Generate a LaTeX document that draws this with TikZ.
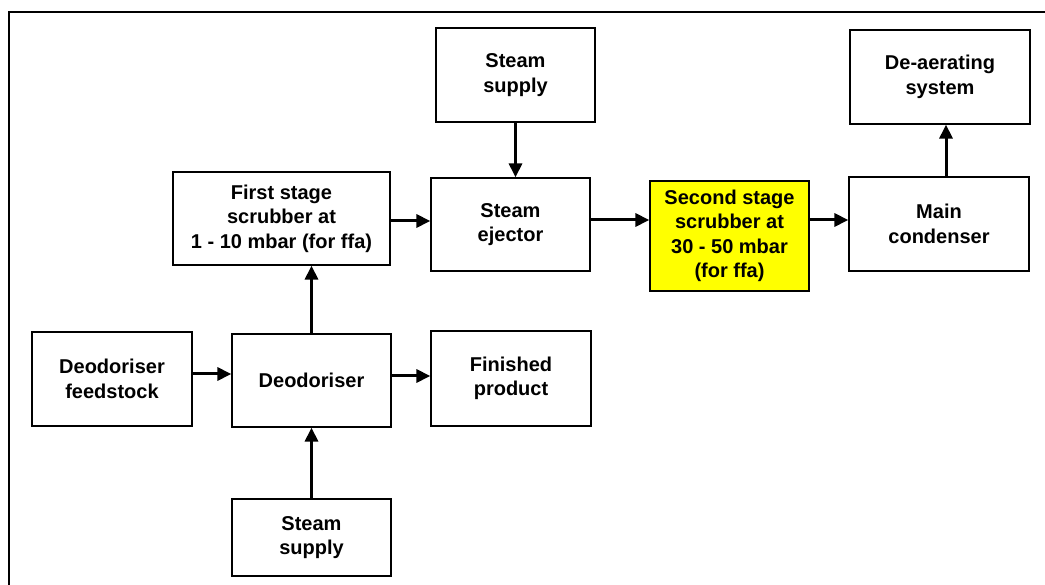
\documentclass[tikz,border=0pt]{standalone}
\usepackage{fontspec}
\setmainfont{Liberation Sans}
\usetikzlibrary{arrows.meta}
\definecolor{boxyellow}{RGB}{255,255,0}
\begin{document}
\begin{tikzpicture}[x=1pt,y=-1pt,
  blk/.style={draw=black, line width=1.2pt, fill=white, rectangle, inner sep=0pt, align=center,
    font=\bfseries\fontsize{20}{24.5}\selectfont},
  flow/.style={line width=3pt, -{Triangle[length=14pt,width=13pt]}},
  frame/.style={line width=2pt}]
\useasboundingbox (0,0) rectangle (1045,585);
\draw[frame] (1046,12) -- (9,12) -- (9,586);
\node[blk, minimum width=159pt, minimum height=94pt] (ss1) at (515.5,75) {Steam\\supply};
\node[blk, minimum width=180pt, minimum height=94pt] (dea) at (940,77) {De-aerating\\system};
\node[blk, minimum width=217pt, minimum height=93pt] (fs) at (281.5,218.5) {First stage\\scrubber at\\1 - 10 mbar (for ffa)};
\node[blk, minimum width=159pt, minimum height=93pt] (ej) at (510.5,224.5) {Steam\\ejector};
\node[blk, fill=boxyellow, minimum width=159pt, minimum height=110pt] (sec) at (729.5,236) {Second stage\\scrubber at\\30 - 50 mbar\\(for ffa)};
\node[blk, minimum width=180pt, minimum height=94pt] (cond) at (939,224) {Main\\condenser};
\node[blk, minimum width=160pt, minimum height=94pt] (feed) at (112,379) {Deodoriser\\feedstock};
\node[blk, minimum width=159pt, minimum height=93pt] (deo) at (311.5,380.5) {Deodoriser};
\node[blk, minimum width=160pt, minimum height=95pt] (fin) at (511,378.5) {Finished\\product};
\node[blk, minimum width=159pt, minimum height=77pt] (ss2) at (311.5,537.5) {Steam\\supply};
\draw[flow] (ss1.south) -- (ss1.south |- ej.north);
\draw[flow] ([yshift=-2.5pt]fs.east) -- ([yshift=-2.5pt]fs.east -| ej.west);
\draw[flow] ([yshift=4.5pt]ej.east) -- ([yshift=4.5pt]ej.east -| sec.west);
\draw[flow] ([yshift=16pt]sec.east) -- ([yshift=16pt]sec.east -| cond.west);
\draw[flow] ([xshift=7pt]cond.north) -- ([xshift=7pt]cond.north |- dea.south);
\draw[flow] ([yshift=5pt]feed.east) -- ([yshift=5pt]feed.east -| deo.west);
\draw[flow] ([yshift=4.5pt]deo.east) -- ([yshift=4.5pt]deo.east -| fin.west);
\draw[flow] (deo.north) -- (deo.north |- fs.south);
\draw[flow] (ss2.north) -- (ss2.north |- deo.south);
\end{tikzpicture}
\end{document}
